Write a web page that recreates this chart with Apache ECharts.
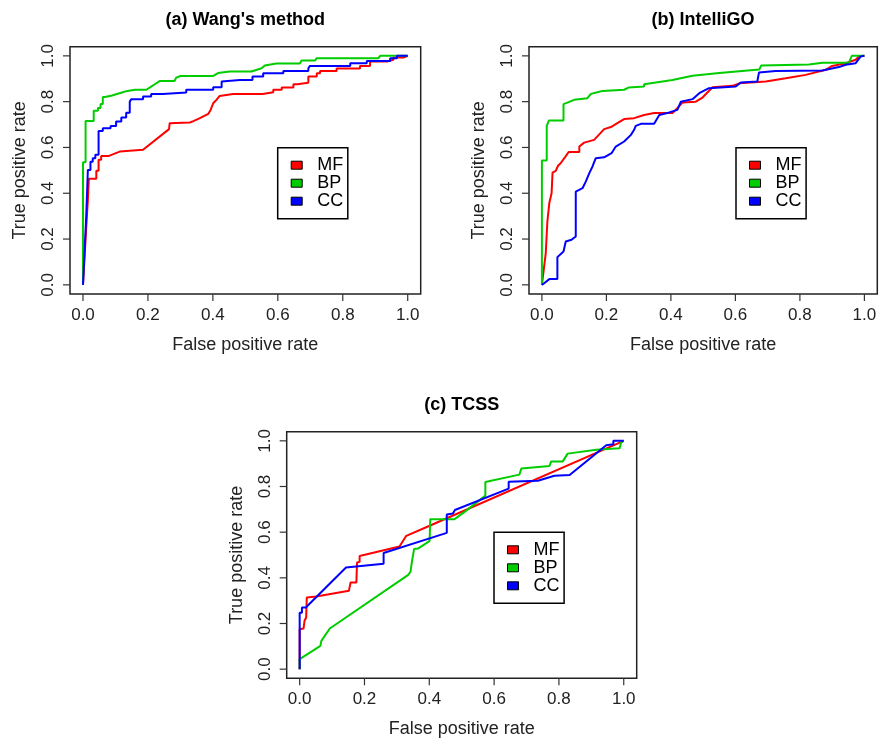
<!DOCTYPE html>
<html><head><meta charset="utf-8">
<script src="https://cdn.jsdelivr.net/npm/echarts@6/dist/echarts.min.js"></script>
<style>html,body{margin:0;padding:0;background:#fff}#chart{width:880px;height:742px}</style>
</head><body><div id="chart"></div>
<script>
// ---------- data ----------
const seriesNames = ['MF', 'BP', 'CC'];
const panelTitles = ["(a) Wang's method", "(b) IntelliGO", "(c) TCSS"];
const xAxisName = 'False positive rate';
const yAxisName = 'True positive rate';
const tickValues = [0, 0.2, 0.4, 0.6, 0.8, 1.0];
const axisMin = 0, axisMax = 1, axisStep = 0.2;

// (a) Wang's method
const wangMF = [[0,0],[0.004,0.1],[0.008,0.2],[0.012,0.30],[0.015,0.37],[0.018,0.463],[0.041,0.463],[0.041,0.498],[0.048,0.498],[0.048,0.546],[0.056,0.546],[0.056,0.563],[0.08,0.563],[0.08,0.571],[0.113,0.582],[0.144,0.586],[0.185,0.59],[0.265,0.68],[0.267,0.706],[0.329,0.709],[0.34,0.715],[0.36,0.728],[0.386,0.747],[0.393,0.764],[0.401,0.793],[0.411,0.808],[0.421,0.825],[0.462,0.833],[0.553,0.833],[0.553,0.841],[0.586,0.841],[0.586,0.852],[0.612,0.852],[0.612,0.862],[0.648,0.862],[0.648,0.876],[0.66,0.876],[0.66,0.883],[0.694,0.883],[0.694,0.91],[0.72,0.91],[0.72,0.924],[0.73,0.924],[0.73,0.934],[0.781,0.934],[0.781,0.945],[0.853,0.945],[0.853,0.956],[0.884,0.956],[0.884,0.975],[0.936,0.975],[0.936,0.983],[0.956,0.983],[0.956,0.993],[0.987,0.993],[0.987,1],[1,1]];
const wangBP = [[0,0],[0,0.535],[0.008,0.535],[0.008,0.716],[0.033,0.716],[0.033,0.76],[0.046,0.76],[0.046,0.772],[0.054,0.772],[0.054,0.79],[0.061,0.79],[0.061,0.82],[0.068,0.82],[0.068,0.825],[0.09,0.827],[0.102,0.832],[0.12,0.84],[0.137,0.847],[0.16,0.852],[0.195,0.852],[0.21,0.866],[0.22,0.875],[0.236,0.89],[0.282,0.89],[0.287,0.905],[0.30,0.912],[0.40,0.912],[0.416,0.925],[0.452,0.932],[0.519,0.932],[0.524,0.94],[0.55,0.946],[0.56,0.958],[0.596,0.967],[0.668,0.967],[0.673,0.98],[0.715,0.98],[0.72,0.99],[0.91,0.99],[0.915,1],[1,1]];
const wangCC = [[0,0],[0.005,0.15],[0.01,0.3],[0.013,0.42],[0.015,0.502],[0.023,0.502],[0.023,0.538],[0.03,0.538],[0.03,0.553],[0.038,0.553],[0.038,0.568],[0.048,0.568],[0.048,0.672],[0.061,0.672],[0.061,0.684],[0.085,0.684],[0.085,0.694],[0.102,0.694],[0.102,0.713],[0.118,0.713],[0.118,0.731],[0.133,0.731],[0.133,0.752],[0.144,0.752],[0.144,0.80],[0.149,0.811],[0.185,0.811],[0.185,0.822],[0.21,0.822],[0.21,0.833],[0.246,0.833],[0.246,0.84],[0.318,0.84],[0.318,0.852],[0.401,0.852],[0.401,0.863],[0.427,0.863],[0.427,0.888],[0.483,0.895],[0.522,0.895],[0.522,0.91],[0.555,0.91],[0.555,0.924],[0.617,0.924],[0.617,0.934],[0.694,0.934],[0.694,0.946],[0.699,0.956],[0.823,0.956],[0.823,0.968],[0.874,0.968],[0.874,0.978],[0.946,0.978],[0.946,0.99],[0.967,0.99],[0.967,1],[1,1]];

// (b) IntelliGO
const intelliMF = [[0,0],[0.012,0.138],[0.017,0.277],[0.023,0.357],[0.03,0.40],[0.033,0.49],[0.043,0.498],[0.05,0.52],[0.058,0.531],[0.073,0.56],[0.083,0.58],[0.116,0.58],[0.116,0.604],[0.131,0.621],[0.162,0.633],[0.193,0.68],[0.214,0.689],[0.234,0.706],[0.255,0.724],[0.286,0.728],[0.317,0.742],[0.348,0.75],[0.405,0.75],[0.436,0.796],[0.477,0.80],[0.498,0.818],[0.529,0.863],[0.591,0.869],[0.612,0.88],[0.694,0.888],[0.756,0.902],[0.818,0.917],[0.88,0.939],[0.9,0.956],[0.942,0.968],[0.973,0.983],[0.983,0.997],[1,1]];
const intelliBP = [[0,0],[0,0.543],[0.015,0.543],[0.015,0.694],[0.022,0.718],[0.067,0.718],[0.067,0.789],[0.079,0.796],[0.1,0.808],[0.141,0.815],[0.141,0.822],[0.152,0.834],[0.172,0.841],[0.188,0.847],[0.255,0.852],[0.27,0.862],[0.317,0.866],[0.317,0.876],[0.405,0.895],[0.467,0.913],[0.55,0.925],[0.674,0.94],[0.68,0.958],[0.828,0.962],[0.87,0.97],[0.952,0.97],[0.961,1],[1,1]];
const intelliCC = [[0,0],[0.007,0.007],[0.023,0.025],[0.048,0.025],[0.048,0.121],[0.067,0.146],[0.074,0.189],[0.092,0.197],[0.105,0.211],[0.105,0.407],[0.126,0.422],[0.136,0.451],[0.147,0.488],[0.157,0.517],[0.167,0.553],[0.193,0.557],[0.216,0.575],[0.229,0.604],[0.255,0.626],[0.276,0.655],[0.286,0.677],[0.291,0.694],[0.307,0.703],[0.348,0.703],[0.364,0.742],[0.395,0.753],[0.42,0.764],[0.431,0.80],[0.467,0.811],[0.488,0.837],[0.518,0.859],[0.601,0.866],[0.617,0.884],[0.668,0.888],[0.673,0.927],[0.725,0.934],[0.87,0.936],[0.921,0.951],[0.942,0.961],[0.973,0.968],[0.988,0.997],[1,1]];

// (c) TCSS
const tcssMF = [[0,0],[0,0.175],[0.012,0.178],[0.015,0.212],[0.02,0.226],[0.022,0.314],[0.051,0.318],[0.152,0.343],[0.157,0.38],[0.175,0.38],[0.177,0.467],[0.185,0.47],[0.185,0.496],[0.308,0.537],[0.329,0.584],[0.401,0.628],[1,1]];
const tcssBP = [[0,0],[0,0.044],[0.064,0.102],[0.067,0.124],[0.093,0.178],[0.334,0.412],[0.342,0.426],[0.346,0.467],[0.353,0.526],[0.365,0.528],[0.391,0.552],[0.401,0.562],[0.403,0.657],[0.478,0.657],[0.51,0.69],[0.573,0.76],[0.573,0.82],[0.678,0.852],[0.684,0.879],[0.771,0.89],[0.776,0.91],[0.812,0.91],[0.827,0.944],[0.915,0.961],[0.987,0.967],[0.992,0.993],[1,1]];
const tcssCC = [[0,0],[0,0.247],[0.007,0.247],[0.007,0.27],[0.019,0.27],[0.143,0.445],[0.259,0.462],[0.259,0.509],[0.454,0.597],[0.454,0.677],[0.473,0.682],[0.479,0.697],[0.645,0.791],[0.645,0.821],[0.735,0.825],[0.786,0.847],[0.833,0.85],[0.946,0.981],[0.968,0.985],[0.968,1],[1,1]];

// ---------- layout / style ----------
const FONT = "'Liberation Sans', Arial, Helvetica, sans-serif";
const colors = ['#FF0000', '#00CD00', '#0000FF'];
const PAD = 0.04;      // R default axis expansion
const TICK = 7;        // tick length (px)
const panels = [
  { data: [wangMF, wangBP, wangCC], box: {left: 70, top: 46.7, width: 350.7, height: 247.3}, titleX: 245.3, titleY: 11.5, legend: {left: 277.7, top: 147.7} },
  { data: [intelliMF, intelliBP, intelliCC], box: {left: 529, top: 46.7, width: 348.3, height: 247.3}, titleX: 703, titleY: 11.5, legend: {left: 736, top: 147.7} },
  { data: [tcssMF, tcssBP, tcssCC], box: {left: 286.7, top: 431.7, width: 350, height: 246.6}, titleX: 461.7, titleY: 396, legend: {left: 494, top: 532.3} }
];

const option = {
  animation: false,
  backgroundColor: '#fff',
  title: [], grid: [], xAxis: [], yAxis: [], legend: [], series: []
};

// custom tick renderer: draws an outward tick from the frame edge at each tick value
function makeTickRenderer(dir, gap) {
  return function (params, api) {
    const pt = api.coord([api.value(0), api.value(1)]);
    const shape = dir === 'x'
      ? {x1: pt[0], y1: pt[1] + gap, x2: pt[0], y2: pt[1] + gap + TICK}
      : {x1: pt[0] - gap, y1: pt[1], x2: pt[0] - gap - TICK, y2: pt[1]};
    return {type: 'line', shape: shape, style: {stroke: '#333', lineWidth: 1.2}, silent: true};
  };
}

panels.forEach((p, i) => {
  const b = p.box;
  const uw = b.width / (1 + 2 * PAD), uh = b.height / (1 + 2 * PAD);
  const offX = PAD * uw, offY = PAD * uh;
  option.title.push({
    text: panelTitles[i], left: p.titleX, top: p.titleY, textAlign: 'center', padding: 0,
    textStyle: {fontSize: 18, fontWeight: 'bold', color: '#000', fontFamily: FONT}
  });
  // data grid (0..1 range)
  const gData = option.grid.length;
  option.grid.push({show: false, left: b.left + offX, top: b.top + offY, width: uw, height: uh});
  // frame grid
  const gBox = option.grid.length;
  option.grid.push({show: true, borderColor: '#222', borderWidth: 1.5, backgroundColor: 'transparent',
    left: b.left, top: b.top, width: b.width, height: b.height});

  const common = {
    type: 'value', min: axisMin, max: axisMax, interval: axisStep,
    axisLine: {show: false, onZero: false},
    splitLine: {show: false},
    axisTick: {show: false},
    nameLocation: 'middle',
    nameTextStyle: {fontSize: 18, color: '#222', fontFamily: FONT}
  };
  const xi = option.xAxis.length;
  option.xAxis.push(Object.assign({}, common, {
    gridIndex: gData, position: 'bottom', offset: offY,
    axisLabel: {formatter: v => v.toFixed(1), fontSize: 17, color: '#222', margin: 13, fontFamily: FONT, showMinLabel: true, showMaxLabel: true},
    name: xAxisName, nameGap: 42
  }));
  option.yAxis.push(Object.assign({}, common, {
    gridIndex: gData, position: 'left', offset: offX,
    axisLabel: {formatter: v => v.toFixed(1), fontSize: 17, color: '#222', margin: 13, rotate: 90, fontFamily: FONT, showMinLabel: true, showMaxLabel: true},
    name: yAxisName, nameGap: 41, nameRotate: 90
  }));
  option.xAxis.push({gridIndex: gBox, type: 'value', show: false, min: 0, max: 1});
  option.yAxis.push({gridIndex: gBox, type: 'value', show: false, min: 0, max: 1});

  option.legend.push({
    orient: 'vertical', left: p.legend.left, top: p.legend.top, data: seriesNames,
    icon: 'rect', itemWidth: 11, itemHeight: 8, itemGap: 0,
    padding: [8.5, 4.6, 8.5, 13], borderColor: '#000', borderWidth: 1.5, backgroundColor: '#fff',
    itemStyle: {borderColor: '#000', borderWidth: 1},
    selectedMode: false,
    formatter: n => '{t|' + n + '}',
    textStyle: {fontSize: 18, color: '#000', fontFamily: FONT,
      rich: {t: {fontSize: 18, color: '#000', fontFamily: FONT, padding: [0, 0, 0, 10], lineHeight: 18}}}
  });
  seriesNames.forEach((name, k) => {
    option.series.push({
      type: 'line', name: name, xAxisIndex: xi, yAxisIndex: xi,
      data: p.data[k], showSymbol: false, symbol: 'none', silent: true, clip: false,
      color: colors[k], itemStyle: {color: colors[k]},
      lineStyle: {width: 2, color: colors[k]}, z: 2 + k
    });
  });
  // outward tick marks at the tick values (custom series, not clipped)
  option.series.push({
    type: 'custom', name: 'xticks', xAxisIndex: xi, yAxisIndex: xi, silent: true, clip: false,
    data: tickValues.map(v => [v, axisMin]), encode: {x: 0, y: 1},
    renderItem: makeTickRenderer('x', offY), z: 10
  });
  option.series.push({
    type: 'custom', name: 'yticks', xAxisIndex: xi, yAxisIndex: xi, silent: true, clip: false,
    data: tickValues.map(v => [axisMin, v]), encode: {x: 0, y: 1},
    renderItem: makeTickRenderer('y', offX), z: 10
  });
});

const chart = echarts.init(document.getElementById('chart'), null, {renderer: 'canvas'});
chart.setOption(option);
</script>
</body></html>
